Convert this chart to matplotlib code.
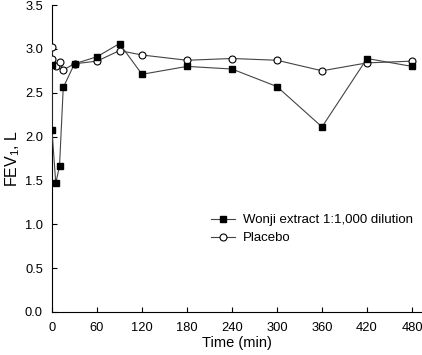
import matplotlib
matplotlib.use("Agg")
import matplotlib.pyplot as plt

plt.rcParams['font.family'] = ['Liberation Sans', 'DejaVu Sans']
plt.rcParams['mathtext.fontset'] = 'custom'
plt.rcParams['mathtext.rm'] = 'Liberation Sans'

time_wonji = [0, 0, 5, 10, 15, 30, 60, 90, 120, 180, 240, 300, 360, 420, 480]
fev_wonji = [2.82, 2.07, 1.47, 1.66, 2.56, 2.83, 2.91, 3.06, 2.71, 2.80, 2.77, 2.57, 2.11, 2.89, 2.80]

time_placebo = [0, 0, 5, 10, 15, 30, 60, 90, 120, 180, 240, 300, 360, 420, 480]
fev_placebo = [3.02, 2.88, 2.80, 2.85, 2.76, 2.83, 2.86, 2.98, 2.93, 2.87, 2.89, 2.87, 2.75, 2.84, 2.86]

xticks = [0, 60, 120, 180, 240, 300, 360, 420, 480]
yticks = [0.0, 0.5, 1.0, 1.5, 2.0, 2.5, 3.0, 3.5]

fig = plt.figure(figsize=(4.22, 3.55), dpi=100)
ax = fig.add_axes([52/422, 43/355, 369/422, 307/355])

ax.plot(time_placebo, fev_placebo, color='#444444', lw=0.8, marker='o', ms=5,
        mfc='white', mec='black', mew=0.8, label='Placebo', zorder=3)
ax.plot(time_wonji, fev_wonji, color='#444444', lw=0.8, marker='s', ms=4.5,
        mfc='black', mec='black', label='Wonji extract 1:1,000 dilution', zorder=4)

ax.set_xlim(0, 492)
ax.set_ylim(0, 3.5)
ax.set_xticks(xticks)
ax.set_xticklabels([str(t) for t in xticks])
ax.set_yticks(yticks)
ax.set_yticklabels([f"{v:.1f}" for v in yticks])
for s in ['top', 'right']:
    ax.spines[s].set_visible(False)
for s in ['left', 'bottom']:
    ax.spines[s].set_linewidth(0.8)
ax.tick_params(axis='both', direction='in', length=3.6, width=0.8, labelsize=9.3)
ax.tick_params(axis='x', pad=7.5)
ax.tick_params(axis='y', pad=6.5)

ax.set_xlabel('Time (min)', fontsize=10.5, labelpad=1)
ax.set_ylabel('FEV$_\\mathregular{1}$, L', fontsize=11.5, labelpad=2)

h, l = ax.get_legend_handles_labels()
ax.legend(h[::-1], l[::-1], loc='center left', bbox_to_anchor=(0.40, 0.27), frameon=False,
          fontsize=9.5, handlelength=1.8, handletextpad=0.6, labelspacing=0.45)

fig.savefig('out.png', dpi=100)
